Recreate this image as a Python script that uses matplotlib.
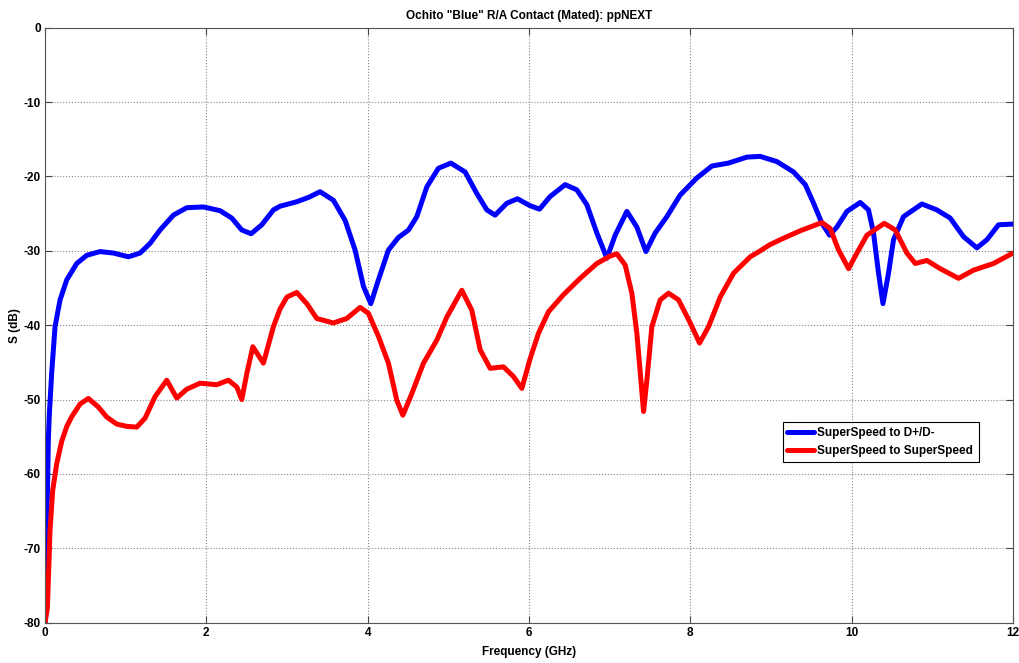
import matplotlib
matplotlib.use("Agg")
import matplotlib.pyplot as plt

plt.rcParams['font.family'] = ['Liberation Sans', 'DejaVu Sans']
plt.rcParams['axes.unicode_minus'] = False

title = 'Ochito "Blue" R/A Contact (Mated): ppNEXT'
xlabel = 'Frequency (GHz)'
ylabel = 'S (dB)'
labels = ['SuperSpeed to D+/D-', 'SuperSpeed to SuperSpeed']

blue_f = [0.0, 0.015, 0.029, 0.041, 0.053, 0.083, 0.124, 0.186, 0.269, 0.393, 0.517,
          0.682, 0.847, 1.033, 1.178, 1.302, 1.426, 1.591, 1.757, 1.963, 2.170, 2.315,
          2.439, 2.555, 2.687, 2.831, 2.914, 3.018, 3.121, 3.27, 3.410, 3.575, 3.720,
          3.844, 3.948, 4.039, 4.133, 4.257, 4.381, 4.506, 4.609, 4.733, 4.877, 5.031,
          5.208, 5.353, 5.477, 5.580, 5.725, 5.857, 6.006, 6.130, 6.262, 6.448, 6.593,
          6.717, 6.841, 6.965, 7.068, 7.213, 7.337, 7.449, 7.564, 7.709, 7.874, 8.081,
          8.267, 8.473, 8.701, 8.867, 9.073, 9.280, 9.425, 9.528, 9.631, 9.726, 9.817,
          9.941, 10.106, 10.209, 10.271, 10.333, 10.388, 10.457, 10.519, 10.643, 10.871,
          11.057, 11.222, 11.387, 11.553, 11.677, 11.821, 12.0]
blue_s = [-80.0, -70.0, -63.0, -55.4, -52.0, -46.3, -40.2, -36.6, -33.9, -31.7, -30.6,
          -30.1, -30.3, -30.8, -30.3, -29.0, -27.2, -25.2, -24.2, -24.1, -24.6, -25.6,
          -27.2, -27.7, -26.5, -24.5, -24.0, -23.7, -23.4, -22.8, -22.05, -23.2, -25.9,
          -29.9, -34.8, -37.1, -33.9, -29.9, -28.2, -27.2, -25.4, -21.4, -18.9, -18.2,
          -19.4, -22.3, -24.5, -25.2, -23.6, -23.0, -23.9, -24.4, -22.7, -21.1, -21.8,
          -23.8, -27.6, -31.0, -27.9, -24.7, -26.8, -30.1, -27.6, -25.4, -22.5, -20.2,
          -18.6, -18.2, -17.4, -17.3, -18.0, -19.4, -21.1, -23.6, -26.3, -27.9, -26.8,
          -24.7, -23.5, -24.5, -27.6, -33.0, -37.1, -33.0, -28.5, -25.4, -23.7,
          -24.5, -25.6, -28.1, -29.6, -28.5, -26.5, -26.4]

red_f = [0.0, 0.029, 0.041, 0.062, 0.095, 0.145, 0.207, 0.27, 0.331, 0.434, 0.537,
         0.661, 0.765, 0.889, 1.013, 1.137, 1.240, 1.364, 1.509, 1.633, 1.757, 1.922,
         2.129, 2.273, 2.377, 2.439, 2.501, 2.576, 2.707, 2.831, 2.914, 3.0, 3.121,
         3.245, 3.369, 3.575, 3.741, 3.906, 4.009, 4.133, 4.257, 4.361, 4.436, 4.547,
         4.692, 4.857, 4.981, 5.167, 5.291, 5.394, 5.518, 5.683, 5.807, 5.911, 6.014,
         6.117, 6.241, 6.427, 6.634, 6.841, 7.006, 7.089, 7.192, 7.275, 7.337, 7.387,
         7.420, 7.461, 7.523, 7.626, 7.730, 7.854, 7.999, 8.114, 8.226, 8.371, 8.536,
         8.743, 8.867, 8.982, 9.115, 9.363, 9.631, 9.734, 9.838, 9.962, 10.065, 10.189,
         10.404, 10.540, 10.685, 10.788, 10.933, 11.098, 11.325, 11.511, 11.759, 12.0]
red_s = [-80.0, -78.0, -74.3, -67.5, -62.2, -58.6, -55.6, -53.6, -52.3, -50.6, -49.85,
         -51.0, -52.35, -53.3, -53.6, -53.7, -52.5, -49.6, -47.4, -49.8, -48.6, -47.8,
         -48.0, -47.4, -48.3, -50.0, -46.5, -42.9, -45.1, -40.2, -37.8, -36.2, -35.6,
         -37.1, -39.1, -39.7, -39.1, -37.6, -38.4, -41.5, -45.1, -50.1, -52.1, -49.2,
         -45.1, -42.0, -38.9, -35.3, -38.0, -43.3, -45.8, -45.6, -46.9, -48.5, -44.5,
         -41.1, -38.2, -35.9, -33.7, -31.7, -30.7, -30.4, -31.9, -35.7, -41.1, -47.4,
         -51.6, -47.4, -40.2, -36.6, -35.7, -36.6, -39.7, -42.4, -40.2, -36.2, -33.0,
         -30.8, -30.0, -29.2, -28.5, -27.3, -26.2, -27.0, -29.9, -32.4, -30.3, -27.9,
         -26.3, -27.2, -30.3, -31.7, -31.3, -32.4, -33.7, -32.6, -31.7, -30.3]

fig = plt.figure(figsize=(10.19, 6.63), dpi=100)
ax = fig.add_axes([0.0442, 0.0608, 0.9499, 0.8974])

ax.plot(blue_f, blue_s, color='#0000ff', lw=3.6, label=labels[0],
        solid_joinstyle='round', solid_capstyle='round')
ax.plot(red_f, red_s, color='#ff0000', lw=3.6, label=labels[1],
        solid_joinstyle='round', solid_capstyle='round')

ax.set_xlim(0, 12)
ax.set_ylim(-80, 0)
ax.set_xticks(range(0, 13, 2))
ax.set_yticks(range(-80, 1, 10))
ax.grid(True, color='#888888', linestyle=':', linewidth=0.8)
ax.tick_params(direction='in', top=True, right=True, length=5, width=0.8,
               colors='#444444', labelcolor='black', labelsize=8.5, pad=3)
for lab in ax.get_xticklabels() + ax.get_yticklabels():
    lab.set_fontweight('bold')
for sp in ax.spines.values():
    sp.set_color('#555555')
    sp.set_linewidth(0.8)

ax.set_title(title, fontsize=8.5, fontweight='bold', pad=6)
ax.set_xlabel(xlabel, fontsize=8.5, fontweight='bold', labelpad=5)
ax.set_ylabel(ylabel, fontsize=8.5, fontweight='bold', labelpad=2)

leg = ax.legend(loc='lower left', bbox_to_anchor=(0.762, 0.270, 0.2025, 0.067),
                mode='expand', borderaxespad=0, fancybox=False, framealpha=1,
                edgecolor='black', handlelength=2.3, handletextpad=0.2,
                borderpad=0.4, labelspacing=0.55,
                prop={'weight': 'bold', 'size': 8.5})
leg.get_frame().set_linewidth(0.8)

fig.savefig('out.png', dpi=100)
